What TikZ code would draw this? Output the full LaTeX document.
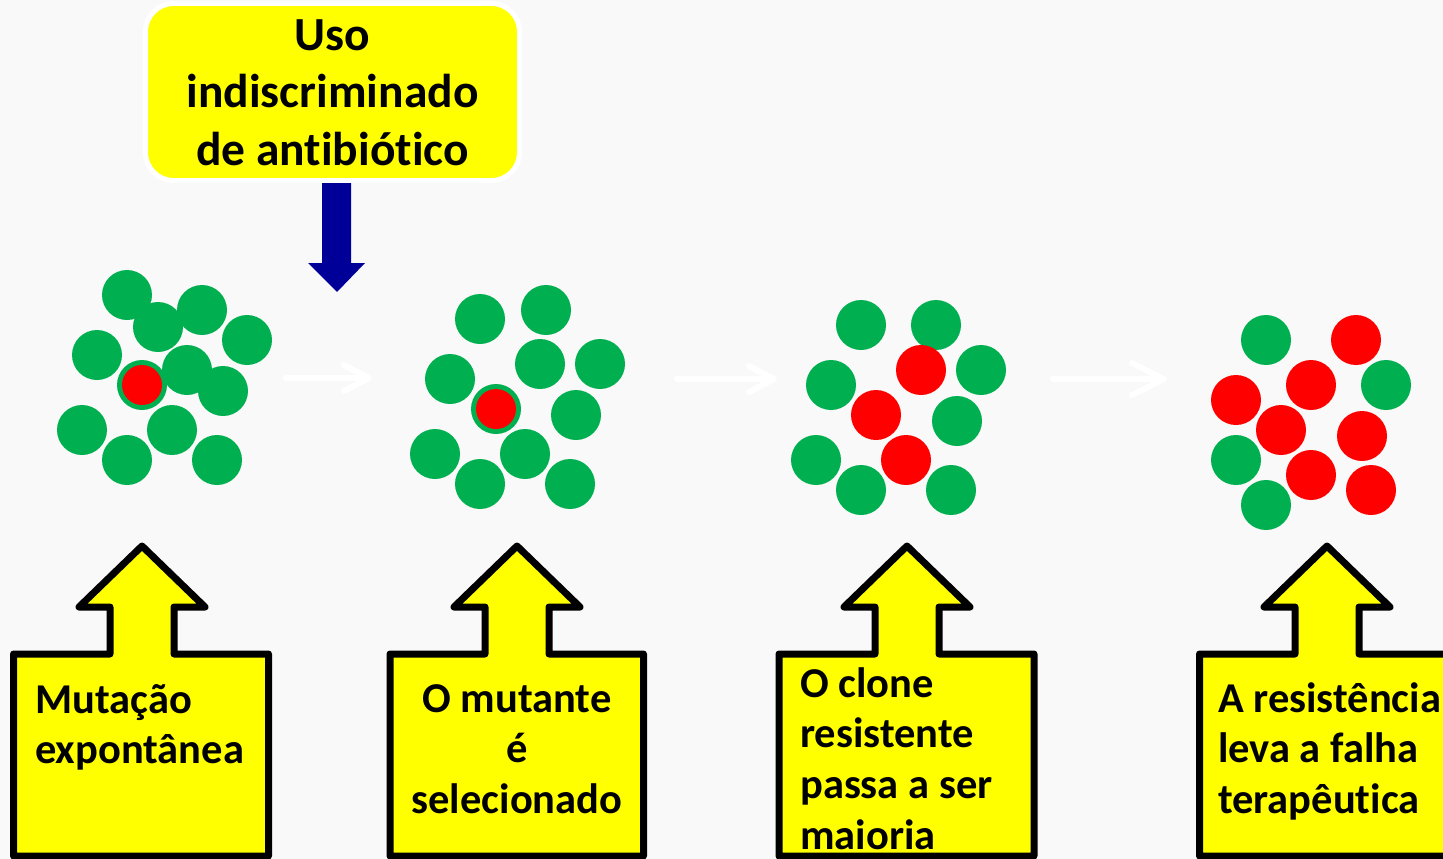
\documentclass[tikz,border=0pt]{standalone}
\usepackage{fontspec}
\setmainfont{Carlito}[Ligatures={NoCommon}]
\usetikzlibrary{arrows.meta}
\definecolor{bg}{RGB}{249,249,249}
\definecolor{cgreen}{RGB}{0,176,80}
\definecolor{cred}{RGB}{255,0,0}
\definecolor{cyellow}{RGB}{255,255,0}
\definecolor{cblue}{RGB}{0,0,153}
\newcommand\firststrut{\rule{0pt}{45pt}}
\newcommand\laststrut{\rule[-14pt]{0pt}{14pt}}
\begin{document}
\begin{tikzpicture}[x=1pt,y=-1pt,
  greencell/.style={fill=cgreen},
  redcell/.style={fill=cred},
  calloutbox/.style={draw=black,fill=cyellow,line width=7pt,line join=round},
  callouttext/.style={inner sep=0pt,font=\bfseries\fontsize{42.5}{50.7}\selectfont},
  whitearrow/.style={draw=white,line width=6pt,line cap=round,
    -{Straight Barb[length=25pt,width=26pt,round]}},
  topbox/.style={fill=cyellow,draw=white,line width=5pt,rounded corners=28pt,
    minimum width=374pt,minimum height=177pt,inner sep=0pt,align=center,
    font=\bfseries\fontsize{47.5}{57.5}\selectfont}
]
\useasboundingbox (0,0) rectangle (1443,859);
\fill[bg] (0,0) rectangle (1443,859);
\clip (0,0) rectangle (1443,859);

% top box and blue arrow
\node[topbox] (uso) at (332.5,92) {\firststrut Uso\\indiscriminado\\de antibiótico\laststrut};
\fill[cblue] (322,183) -- (351,183) -- (351,263) -- (365,263) -- (337,292)
  -- (308,263) -- (322,263) -- cycle;

% cluster 1
\foreach \x/\y in {127/295,158/327,202/310,247/340,97/355,187/370,223/391,82/430,172/430,127/460,217/460}
  \fill[greencell] (\x,\y) circle[radius=25pt];
\fill[greencell] (142,385) circle[radius=25pt];
\fill[redcell] (142,385) circle[radius=20pt];

% cluster 2
\foreach \x/\y in {480/319,546/310,450/379,540/364,600/364,576/415,435/454,525/454,480/484,570/484}
  \fill[greencell] (\x,\y) circle[radius=25pt];
\fill[greencell] (496,409) circle[radius=25pt];
\fill[redcell] (496,409) circle[radius=20pt];

% cluster 3
\foreach \x/\y in {861/325,936/325,981/370,831/385,957/421,816/460,861/490,951/490}
  \fill[greencell] (\x,\y) circle[radius=25pt];
\foreach \x/\y in {921/370,876/415,906/460}
  \fill[redcell] (\x,\y) circle[radius=25pt];

% cluster 4
\foreach \x/\y in {1266/340,1386/385,1236/460,1266/505}
  \fill[greencell] (\x,\y) circle[radius=25pt];
\foreach \x/\y in {1356/340,1311/385,1236/400,1281/430,1362/436,1311/475,1371/490}
  \fill[redcell] (\x,\y) circle[radius=25pt];

% white arrows between clusters
\coordinate (w1s) at (286,378); \coordinate (w1e) at (372,378);
\coordinate (w2s) at (677,379); \coordinate (w2e) at (777,379);
\coordinate (w3s) at (1053,379); \coordinate (w3e) at (1167,379);
\draw[whitearrow] (w1s) -- (w1e);
\draw[whitearrow] (w2s) -- (w2e);
\draw[whitearrow,-{Straight Barb[length=32pt,width=32pt,round]}] (w3s) -- (w3e);

% callouts
\foreach \cx/\L/\R in {142/13.5/268.5, 517/390/643.5, 907/779/1034, 1327/1199.5/1454.5}
  \draw[calloutbox] (\cx,546) -- (\cx+63,607) -- (\cx+32,607) -- (\cx+32,654)
    -- (\R,654) -- (\R,856) -- (\L,856) -- (\L,654) -- (\cx-32,654)
    -- (\cx-32,607) -- (\cx-63,607) -- cycle;

\node[callouttext,anchor=north west,align=left] (c1) at (35,668)
  {\firststrut Mutação\\expontânea};
\node[callouttext,anchor=north,align=center] (c2) at (517,667)
  {\firststrut O mutante\\é\\selecionado};
\node[callouttext,anchor=north west,align=left] (c3) at (800,652)
  {\firststrut O clone\\resistente\\passa a ser\\maioria};
\node[callouttext,anchor=north west,align=left] (c4) at (1218,667)
  {\firststrut A resistência\\leva a falha\\terapêutica};
\end{tikzpicture}
\end{document}
